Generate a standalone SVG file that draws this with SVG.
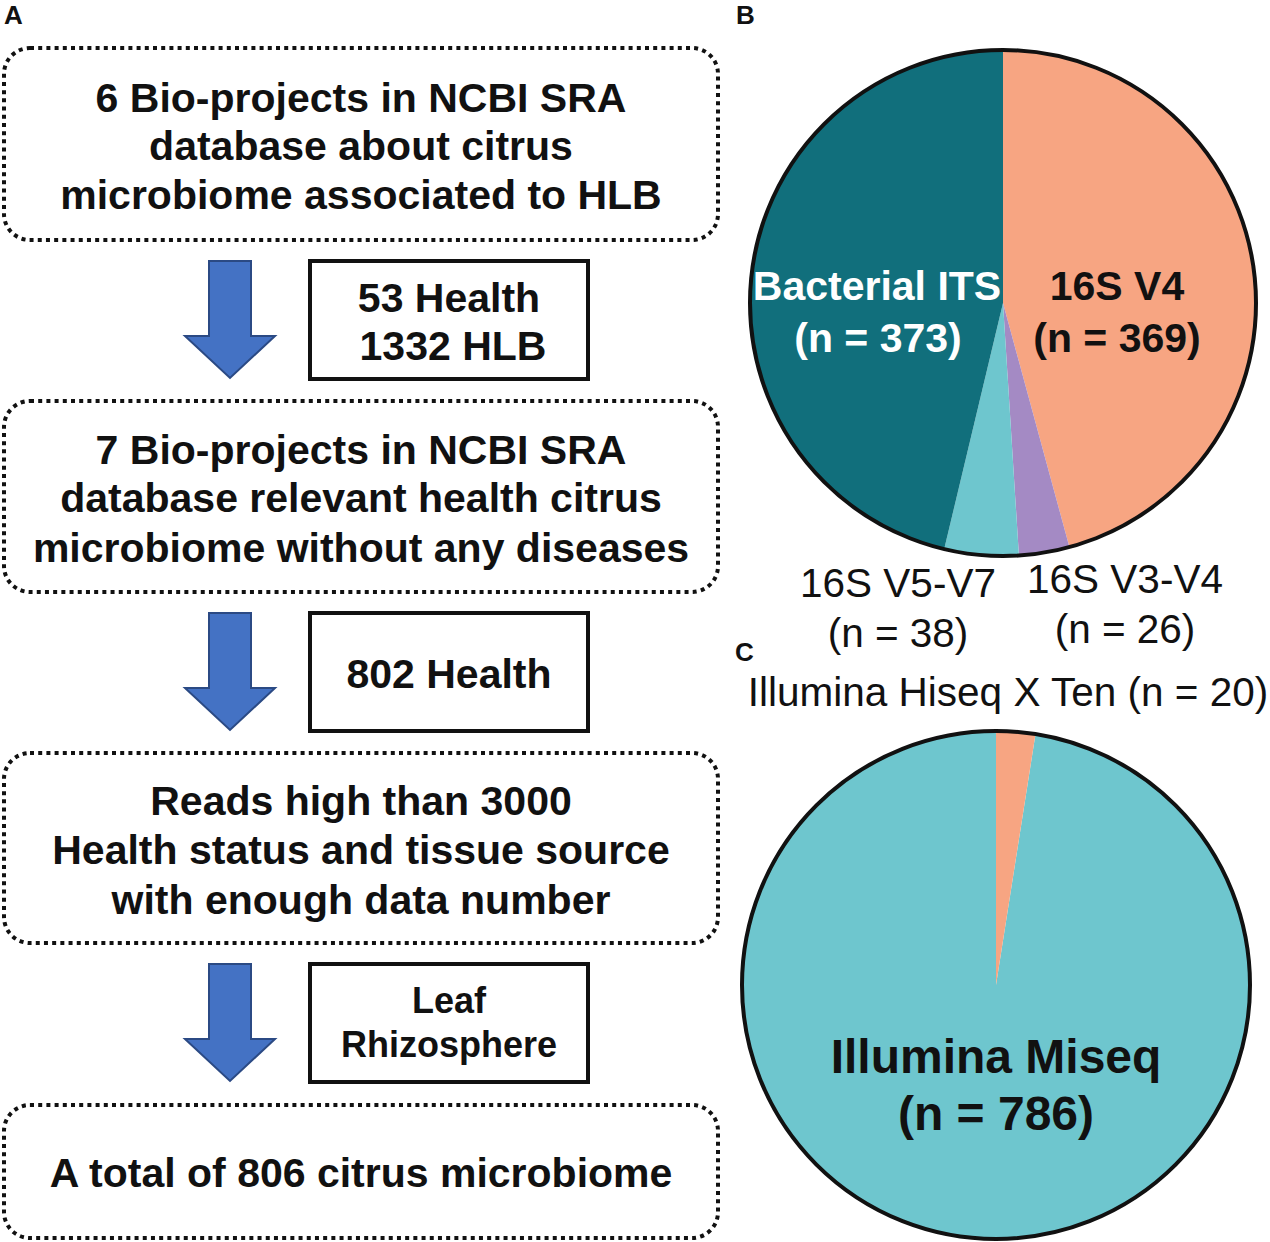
<svg xmlns="http://www.w3.org/2000/svg" width="1270" height="1242" viewBox="0 0 1270 1242">
<style>
.dot{fill:#fff;stroke:#111;stroke-width:4;stroke-dasharray:4 4.2}
.solid{fill:#fff;stroke:#111;stroke-width:4}
.arr{fill:#4472C4;stroke:#2B4A84;stroke-width:2}
.b{font-family:"Liberation Sans",Arial,sans-serif;font-weight:bold;font-size:41px;fill:#111;text-anchor:middle}
.r{font-family:"Liberation Sans",Arial,sans-serif;font-size:40.5px;fill:#111;text-anchor:middle}
.lab{font-family:"Liberation Sans",Arial,sans-serif;font-weight:bold;font-size:26px;fill:#111}
.pie{stroke:none}
</style>
<rect width="1270" height="1242" fill="#fff"/>
<text class="lab" x="4" y="24">A</text>
<text class="lab" x="736" y="24">B</text>
<text class="lab" x="735" y="661">C</text>

<g id="box1">
<rect class="dot" x="4" y="48" width="714" height="192" rx="26"/>
<text class="b" x="361" y="112">6 Bio-projects in NCBI SRA</text>
<text class="b" x="361" y="160">database about citrus</text>
<text class="b" x="361" y="209">microbiome associated to HLB</text>
</g>
<g id="box2">
<rect class="dot" x="4" y="401" width="714" height="191" rx="26"/>
<text class="b" x="361" y="464">7 Bio-projects in NCBI SRA</text>
<text class="b" x="361" y="512">database relevant health citrus</text>
<text class="b" x="361" y="562">microbiome without any diseases</text>
</g>
<g id="box3">
<rect class="dot" x="4" y="753" width="714" height="190" rx="26"/>
<text class="b" x="361" y="815">Reads high than 3000</text>
<text class="b" x="361" y="864">Health status and tissue source</text>
<text class="b" x="361" y="914">with enough data number</text>
</g>
<g id="box4">
<rect class="dot" x="4" y="1105" width="714" height="133" rx="26"/>
<text class="b" x="361" y="1187">A total of 806 citrus microbiome</text>
</g>

<g id="filter1">
<rect class="solid" x="310" y="261" width="278" height="118"/>
<text class="b" x="449" y="312">53 Health</text>
<text class="b" x="453" y="360">1332 HLB</text>
</g>
<g id="filter2">
<rect class="solid" x="310" y="613" width="278" height="118"/>
<text class="b" x="449" y="688">802 Health</text>
</g>
<g id="filter3">
<rect class="solid" x="310" y="964" width="278" height="118"/>
<text class="b" x="449" y="1013" style="font-size:36px">Leaf</text>
<text class="b" x="449" y="1057" style="font-size:36px">Rhizosphere</text>
</g>

<g id="connectors">
<path class="arr" d="M209,261 H251 V336 H275 L230,378 L185,336 H209 Z"/>
<path class="arr" d="M209,613 H251 V688 H275 L230,730 L185,688 H209 Z"/>
<path class="arr" d="M209,964 H251 V1039 H275 L230,1081 L185,1039 H209 Z"/>
</g>

<g id="pieB">
<path class="pie" fill="#F7A582" d="M1003,303 L1003,50 A253,253 0 0 1 1069.4,547.1 Z"/>
<path class="pie" fill="#A48AC4" d="M1003,303 L1069.4,547.1 A253,253 0 0 1 1018.9,555.5 Z"/>
<path class="pie" fill="#6EC6CE" d="M1003,303 L1018.9,555.5 A253,253 0 0 1 944.2,549.1 Z"/>
<path class="pie" fill="#116F7C" d="M1003,303 L944.2,549.1 A253,253 0 0 1 1003,50 Z"/>
<circle cx="1003" cy="303" r="253" fill="none" stroke="#111" stroke-width="4"/>
<text class="b" x="877" y="300" style="fill:#fff">Bacterial ITS</text>
<text class="b" x="878" y="352" style="fill:#fff">(n = 373)</text>
<text class="b" x="1117" y="300">16S V4</text>
<text class="b" x="1117" y="352">(n = 369)</text>
</g>
<g id="labelsB">
<text class="r" x="898" y="597">16S V5-V7</text>
<text class="r" x="898" y="647">(n = 38)</text>
<text class="r" x="1125" y="593">16S V3-V4</text>
<text class="r" x="1125" y="643">(n = 26)</text>
</g>

<g id="pieC">
<path class="pie" fill="#6EC6CE" d="M996,985 L1035.5,734.1 A254,254 0 1 1 996,731 Z"/>
<path class="pie" fill="#F7A582" d="M996,985 L996,731 A254,254 0 0 1 1035.5,734.1 Z"/>
<circle cx="996" cy="985" r="254" fill="none" stroke="#111" stroke-width="4"/>
<text class="b" x="996" y="1073" style="font-size:48px">Illumina Miseq</text>
<text class="b" x="996" y="1130" style="font-size:48px">(n = 786)</text>
</g>
<text class="r" x="1008" y="706">Illumina Hiseq X Ten (n = 20)</text>
</svg>
